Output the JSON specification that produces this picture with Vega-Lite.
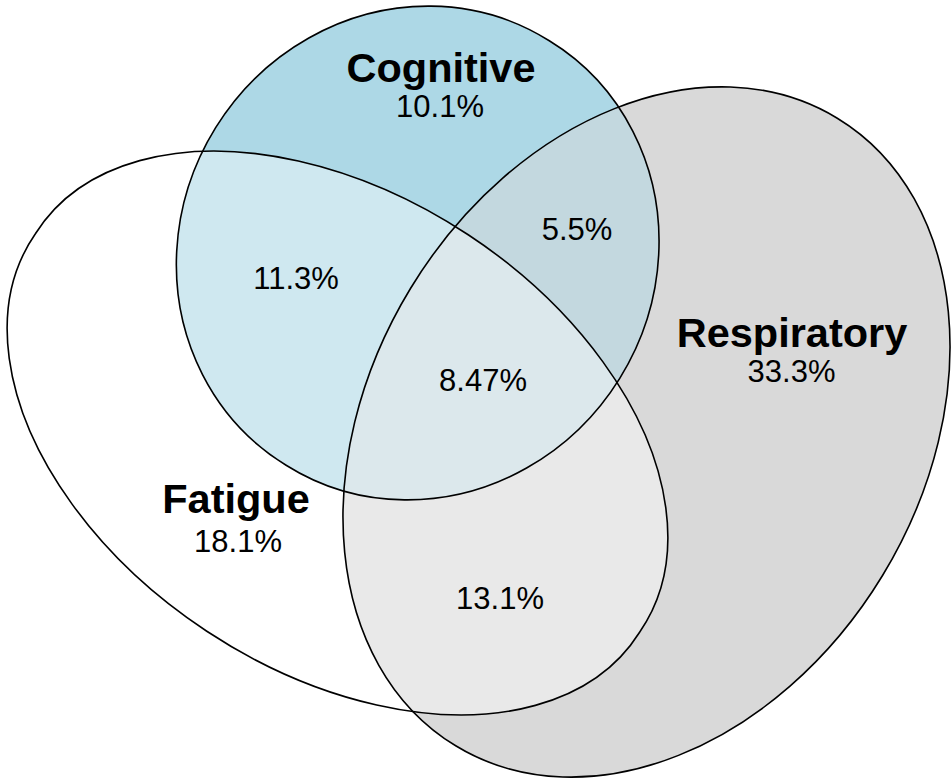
{
  "$schema": "https://vega.github.io/schema/vega-lite/v6.json",
  "width": 951,
  "height": 778,
  "padding": 0,
  "autosize": {"type": "none"},
  "background": "white",
  "config": {"view": {"stroke": null}},
  "datasets": {
    "sets": [
      {"set": "Cognitive", "cx": 417.7, "cy": 253},
      {"set": "Respiratory", "cx": 646.5, "cy": 432},
      {"set": "Fatigue", "cx": 337.5, "cy": 433}
    ],
    "labels": [
      {"text": "Cognitive", "x": 441, "y": 82, "kind": "name"},
      {"text": "Respiratory", "x": 792, "y": 347, "kind": "name"},
      {"text": "Fatigue", "x": 236, "y": 513, "kind": "name"},
      {"text": "10.1%", "x": 440, "y": 117, "kind": "pct"},
      {"text": "33.3%", "x": 791.5, "y": 382, "kind": "pct"},
      {"text": "18.1%", "x": 238, "y": 552, "kind": "pct"},
      {"text": "11.3%", "x": 296, "y": 289, "kind": "pct"},
      {"text": "5.5%", "x": 577, "y": 240, "kind": "pct"},
      {"text": "8.47%", "x": 483, "y": 391, "kind": "pct"},
      {"text": "13.1%", "x": 500, "y": 609, "kind": "pct"}
    ]
  },
  "encoding": {
    "x": {"field": "cx", "type": "quantitative", "scale": {"domain": [0, 951], "range": [0, 951], "nice": false, "zero": false}, "axis": null},
    "y": {"field": "cy", "type": "quantitative", "scale": {"domain": [0, 778], "range": [0, 778], "nice": false, "zero": false}, "axis": null}
  },
  "layer": [
    {
      "data": {"name": "sets"},
      "transform": [{"filter": "datum.set === 'Cognitive'"}],
      "mark": {"type": "point", "filled": true, "size": 4, "fill": "#ADD8E6", "fillOpacity": 1, "opacity": 1, "strokeWidth": 0,
        "shape": "M -131.6 212.2 A 249.7 236.2 -58.2 1 0 131.6 -212.2 A 249.7 236.2 -58.2 1 0 -131.6 212.2 Z"}
    },
    {
      "data": {"name": "sets"},
      "transform": [{"filter": "datum.set === 'Respiratory'"}],
      "mark": {"type": "point", "filled": true, "size": 4, "fill": "#D9D9D9", "fillOpacity": 1, "opacity": 1, "strokeWidth": 0,
        "shape": "M -190.8 313.8 A 367.2 276.2 -58.7 1 0 190.8 -313.8 A 367.2 276.2 -58.7 1 0 -190.8 313.8 Z"}
    },
    {
      "data": {"name": "sets"},
      "transform": [{"filter": "datum.set === 'Cognitive'"}],
      "mark": {"type": "point", "filled": true, "size": 4, "fill": "#ADD8E6", "fillOpacity": 0.5, "opacity": 1, "strokeWidth": 0,
        "shape": "M -131.6 212.2 A 249.7 236.2 -58.2 1 0 131.6 -212.2 A 249.7 236.2 -58.2 1 0 -131.6 212.2 Z"}
    },
    {
      "data": {"name": "sets"},
      "transform": [{"filter": "datum.set === 'Fatigue'"}],
      "mark": {"type": "point", "filled": true, "size": 4, "fill": "#FFFFFF", "fillOpacity": 0.42, "opacity": 1, "strokeWidth": 0,
        "shape": "M -302.1 -199.2 A 361.9 234.1 33.4 1 0 302.1 199.2 A 361.9 234.1 33.4 1 0 -302.1 -199.2 Z"}
    },
    {
      "data": {"name": "sets"},
      "transform": [{"filter": "datum.set === 'Cognitive'"}],
      "mark": {"type": "point", "filled": false, "size": 4, "stroke": "#000000", "strokeWidth": 1.6, "opacity": 1,
        "shape": "M -131.6 212.2 A 249.7 236.2 -58.2 1 0 131.6 -212.2 A 249.7 236.2 -58.2 1 0 -131.6 212.2 Z"}
    },
    {
      "data": {"name": "sets"},
      "transform": [{"filter": "datum.set === 'Respiratory'"}],
      "mark": {"type": "point", "filled": false, "size": 4, "stroke": "#000000", "strokeWidth": 1.6, "opacity": 1,
        "shape": "M -190.8 313.8 A 367.2 276.2 -58.7 1 0 190.8 -313.8 A 367.2 276.2 -58.7 1 0 -190.8 313.8 Z"}
    },
    {
      "data": {"name": "sets"},
      "transform": [{"filter": "datum.set === 'Fatigue'"}],
      "mark": {"type": "point", "filled": false, "size": 4, "stroke": "#000000", "strokeWidth": 1.6, "opacity": 1,
        "shape": "M -302.1 -199.2 A 361.9 234.1 33.4 1 0 302.1 199.2 A 361.9 234.1 33.4 1 0 -302.1 -199.2 Z"}
    },
    {
      "data": {"name": "labels"},
      "transform": [{"filter": "datum.kind === 'name'"}],
      "mark": {"type": "text", "font": "Liberation Sans", "fontSize": 41.5, "fontWeight": "bold", "align": "center", "baseline": "alphabetic", "color": "#000000"},
      "encoding": {
        "x": {"field": "x", "type": "quantitative"},
        "y": {"field": "y", "type": "quantitative"},
        "text": {"field": "text", "type": "nominal"}
      }
    },
    {
      "data": {"name": "labels"},
      "transform": [{"filter": "datum.kind === 'pct'"}],
      "mark": {"type": "text", "font": "Liberation Sans", "fontSize": 31, "align": "center", "baseline": "alphabetic", "color": "#000000"},
      "encoding": {
        "x": {"field": "x", "type": "quantitative"},
        "y": {"field": "y", "type": "quantitative"},
        "text": {"field": "text", "type": "nominal"}
      }
    }
  ]
}
